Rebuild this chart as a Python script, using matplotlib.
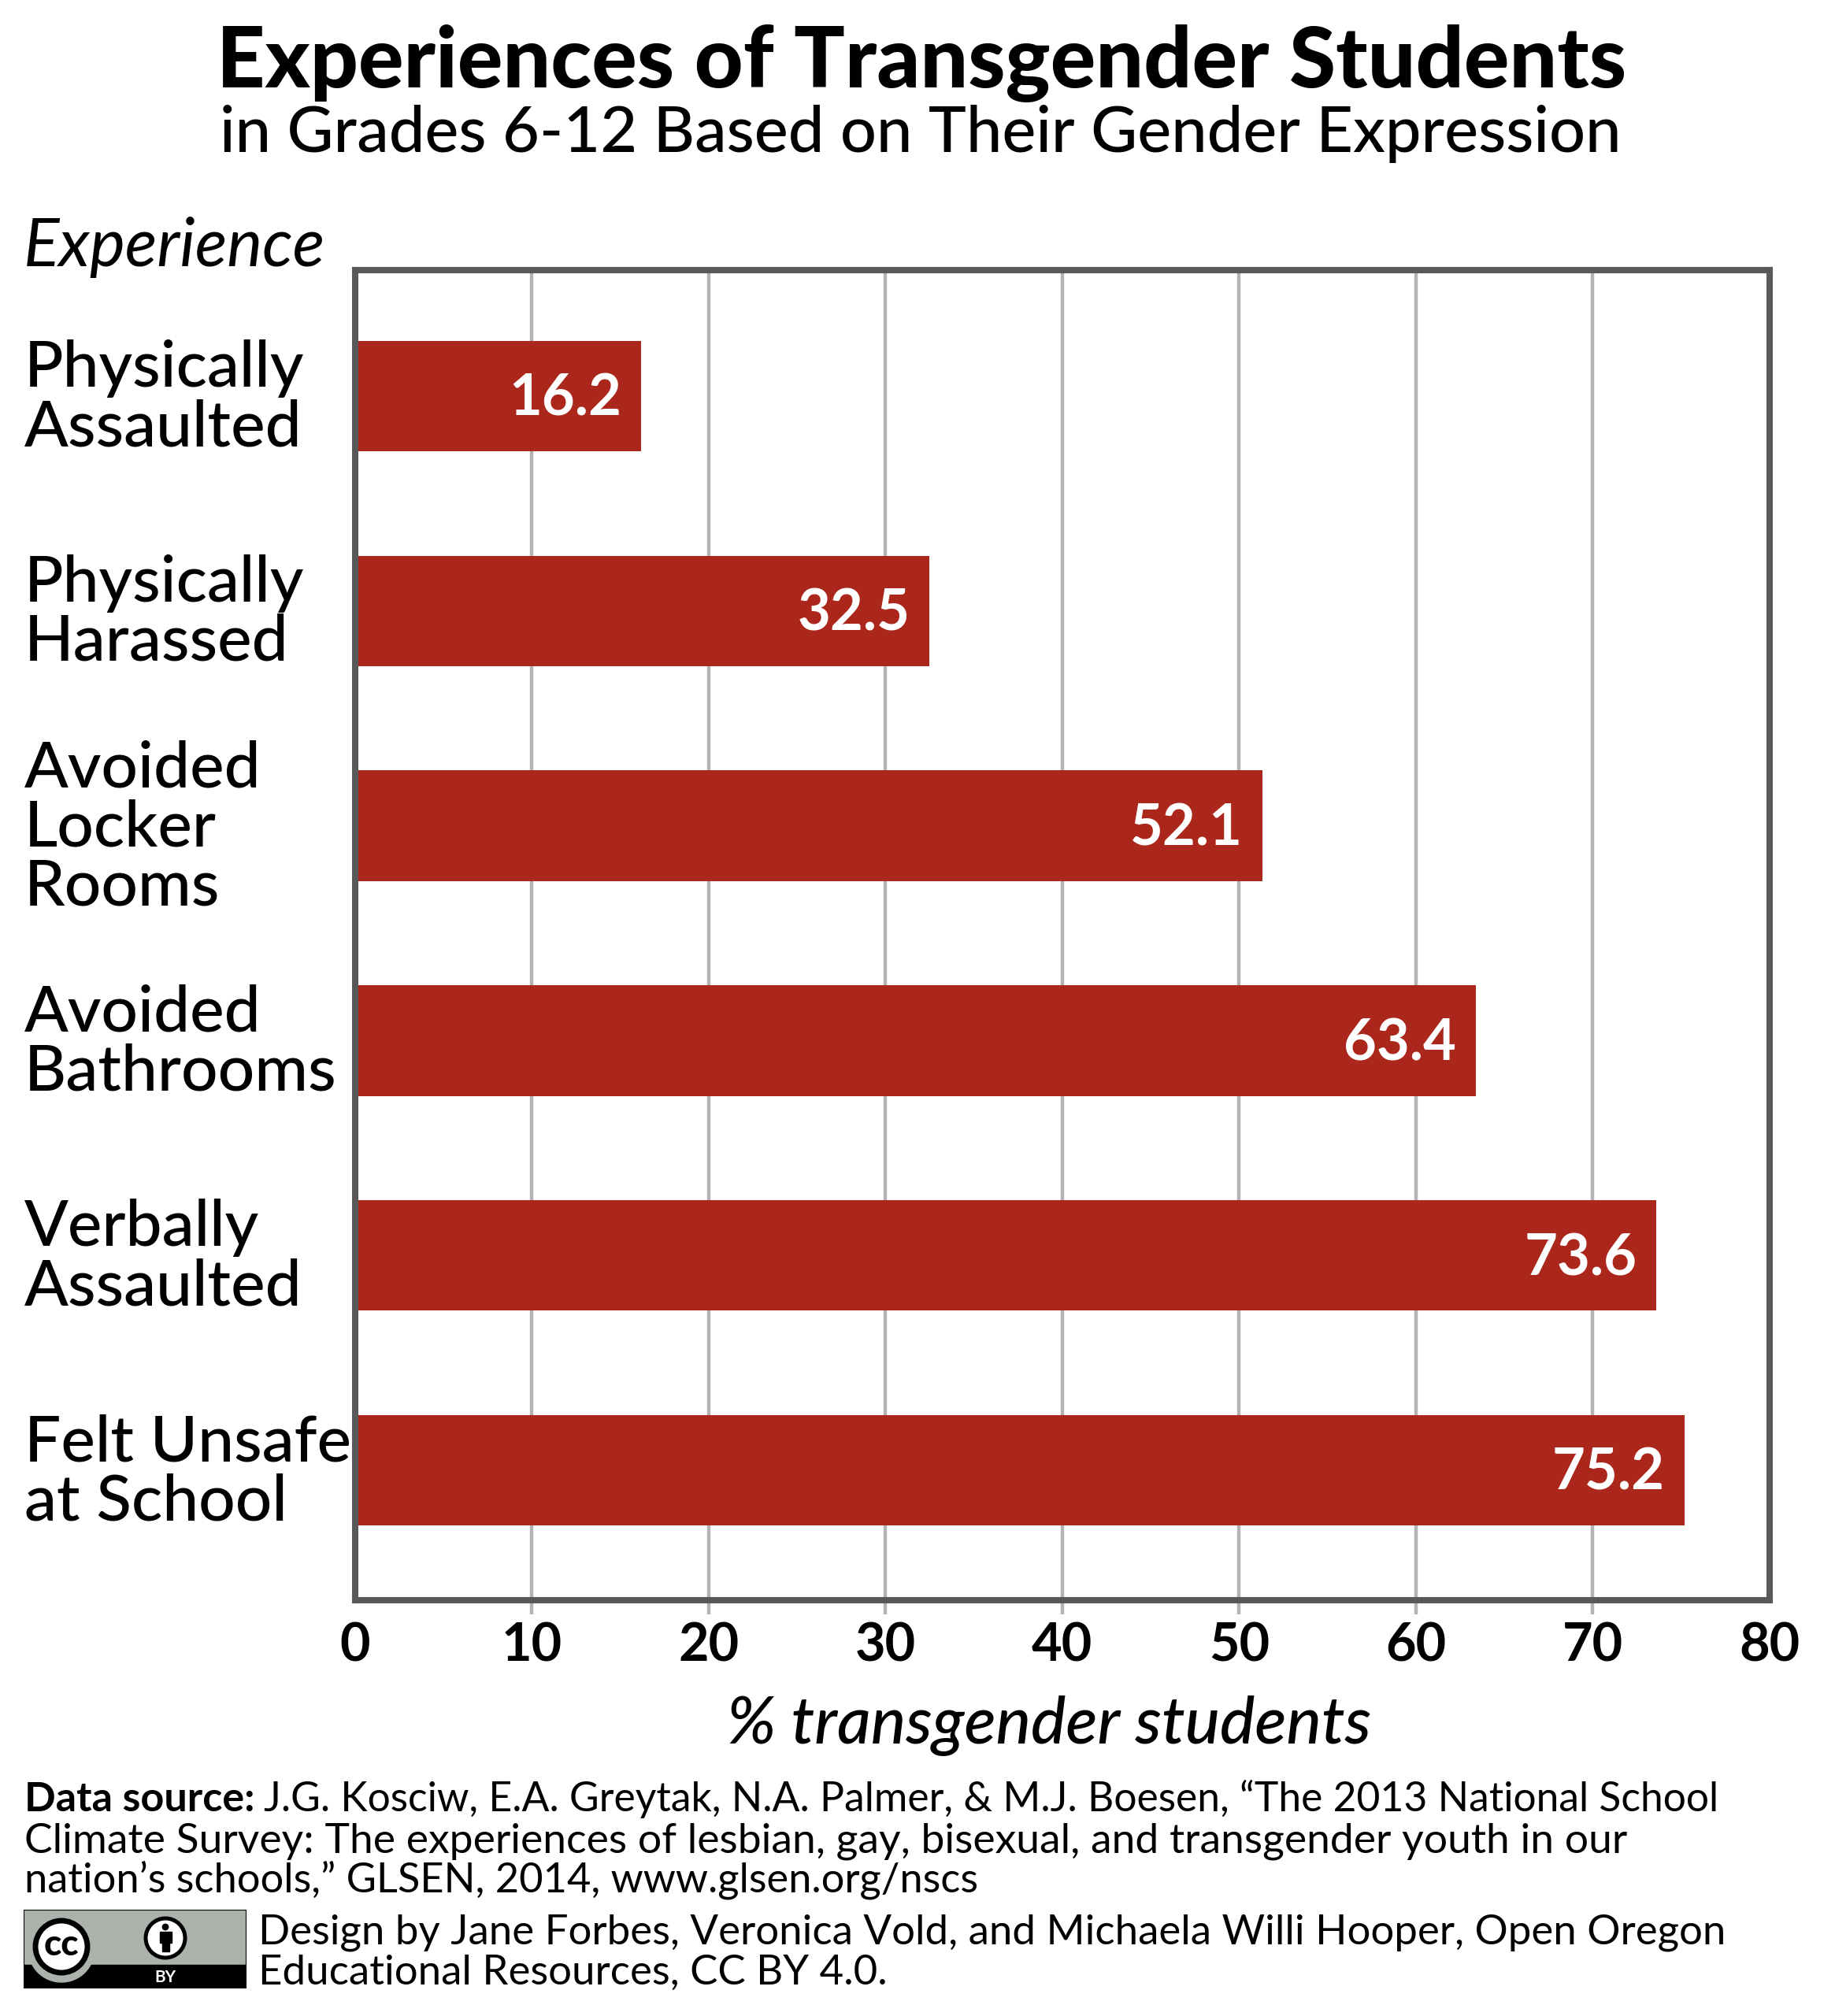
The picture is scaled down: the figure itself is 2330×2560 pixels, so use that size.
# -*- coding:utf-8 -*-
import matplotlib
matplotlib.use('Agg')
import matplotlib.pyplot as plt
from matplotlib.patches import Circle, Rectangle
from matplotlib.transforms import ScaledTranslation

# categories top to bottom
categories = ["Physically\nAssaulted", "Physically\nHarassed", "Avoided\nLocker\nRooms",
              "Avoided\nBathrooms", "Verbally\nAssaulted", "Felt Unsafe\nat School"]
# the drawn bar for 52.1 really stops near 51.3 in the original
bar_values = [16.2, 32.5, 51.3, 63.4, 73.6, 75.2]
bar_labels = ["16.2", "32.5", "52.1", "63.4", "73.6", "75.2"]
x_ticks = [0, 10, 20, 30, 40, 50, 60, 70, 80]

W, H = 2330, 2560
FONT = 'Lato'
RED = '#ab261b'
SPINE = '#595959'
GRID = '#b3b3b3'

plt.rcParams['font.family'] = [FONT, 'DejaVu Sans']


# pixel position (from top left) to figure fraction
def fx(x):
    return x / W


def fy(y):
    return 1 - y / H


fig = plt.figure(figsize=(W / 100, H / 100), dpi=100, facecolor='white')
ax = fig.add_axes([fx(450.5), fy(2032), (2247 - 450.5) / W, (2032 - 343) / H])

ypos = list(range(len(categories)))
ax.barh(ypos, bar_values, height=0.514, color=RED, zorder=3)
ax.set_xlim(0, 80)
ax.set_ylim(5.604, -0.586)

ax.set_xticks(x_ticks)
ax.grid(axis='x', color=GRID, linewidth=3.2, zorder=1)
ax.set_axisbelow(True)
ax.tick_params(axis='x', color=GRID, width=3.2, length=13, pad=7, labelsize=48)
ax.xaxis.get_major_ticks()[0].tick1line.set_visible(False)
ax.xaxis.get_major_ticks()[-1].tick1line.set_visible(False)
for lab in ax.get_xticklabels():
    lab.set_fontweight('bold')

ax.set_yticks(ypos)
ax.set_yticklabels(categories, fontsize=59, fontweight='medium', ha='left', linespacing=1.02)
ax.tick_params(axis='y', length=0, pad=(450.5 - 31) * 0.72)
# labels sit a little above the bar centre
up = ScaledTranslation(0, 3.6 / 72, fig.dpi_scale_trans)
for lab in ax.get_yticklabels():
    lab.set_transform(lab.get_transform() + up)

for s in ax.spines.values():
    s.set_color(SPINE)
    s.set_linewidth(5.8)
    s.set_zorder(4)

for i in ypos:
    ax.annotate(bar_labels[i], xy=(bar_values[i], i), xytext=(-18, -3), textcoords='offset points',
                ha='right', va='center', color='white', fontsize=52, fontweight='bold', zorder=5)

# titles
fig.text(fx(1170), fy(111), "Experiences of Transgender Students", ha='center', va='baseline',
         fontsize=77.3, fontweight='black')
fig.text(fx(1169), fy(193), "in Grades 6-12 Based on Their Gender Expression", ha='center', va='baseline',
         fontsize=58.3, fontweight='medium')
fig.text(fx(30), fy(338), "Experience", ha='left', va='baseline', fontsize=61, fontstyle='italic')
fig.text(fx(1332), fy(2214), "% transgender students", ha='center', va='baseline', fontsize=60,
         fontstyle='italic', fontweight='medium')

# source lines
fig.text(fx(31), fy(2300), "Data source:", ha='left', va='baseline', fontsize=37.5, fontweight='bold')
fig.text(fx(335), fy(2300), "J.G. Kosciw, E.A. Greytak, N.A. Palmer, & M.J. Boesen, \u201cThe 2013 National School",
         ha='left', va='baseline', fontsize=37.2)
fig.text(fx(31), fy(2352), "Climate Survey: The experiences of lesbian, gay, bisexual, and transgender youth in our",
         ha='left', va='baseline', fontsize=38.5)
fig.text(fx(31), fy(2402), "nation\u2019s schools,\u201d GLSEN, 2014, www.glsen.org/nscs",
         ha='left', va='baseline', fontsize=37.7)
fig.text(fx(328), fy(2468), "Design by Jane Forbes, Veronica Vold, and Michaela Willi Hooper, Open Oregon",
         ha='left', va='baseline', fontsize=38)
fig.text(fx(328), fy(2520), "Educational Resources, CC BY 4.0.",
         ha='left', va='baseline', fontsize=38)

# cc by badge, drawn in its own small axes in pixel units
bx0, bx1, by0, by1 = 30, 313, 2425, 2525
bad = fig.add_axes([fx(bx0), fy(by1), (bx1 - bx0) / W, (by1 - by0) / H])
bad.set_xlim(0, bx1 - bx0)
bad.set_ylim(by1 - by0, 0)
bad.axis('off')
bad.add_patch(Rectangle((0, 0), bx1 - bx0, by1 - by0, facecolor='#aab2ab', edgecolor='black', linewidth=1.5, zorder=1))
bad.add_patch(Rectangle((0, 70), bx1 - bx0, 30, color='black', zorder=2))
bad.add_patch(Circle((48, 50), 42, color='#aab2ab', zorder=3))
bad.add_patch(Circle((48, 47), 33, facecolor='white', edgecolor='black', linewidth=5, zorder=4))
bad.text(48, 45, "cc", ha='center', va='center', fontsize=33, fontweight='black', zorder=5)
bad.add_patch(Circle((180, 36), 25, facecolor='white', edgecolor='black', linewidth=3.6, zorder=4))
bad.add_patch(Circle((180, 22), 3.7, color='black', zorder=5))
bad.add_patch(Rectangle((172.5, 28), 15, 14, color='black', zorder=5))
bad.add_patch(Rectangle((175.5, 42), 9, 11, color='black', zorder=5))
bad.text(180, 86, "BY", ha='center', va='center', color='white', fontsize=15, fontweight='bold', zorder=5)

fig.savefig('out.png', dpi=100, facecolor='white')
